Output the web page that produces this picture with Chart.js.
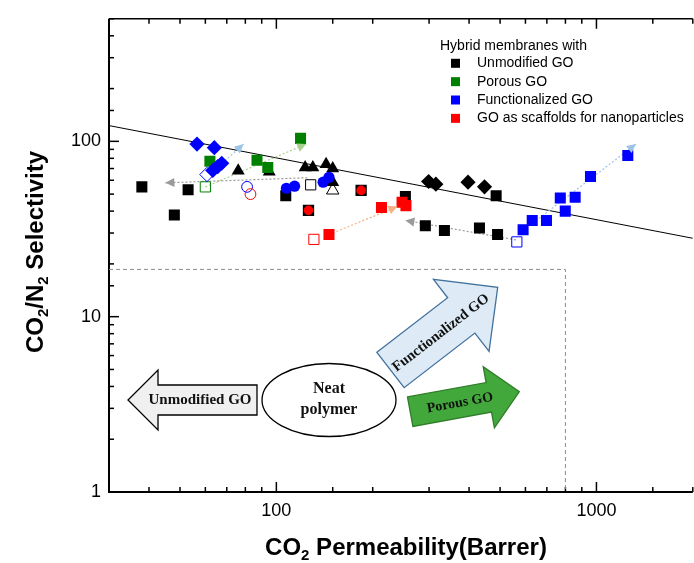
<!DOCTYPE html>
<html>
<head>
<meta charset="utf-8">
<title>CO2/N2 selectivity vs permeability</title>
<script src="https://cdn.jsdelivr.net/npm/chart.js@4.4.0/dist/chart.umd.min.js"></script>
<style>
  html, body { margin: 0; padding: 0; background: #fff; overflow: hidden; }
  #wrap { position: relative; width: 701px; height: 563px; }
</style>
</head>
<body>
<div id="wrap"><canvas id="chart"></canvas></div>
<script>
// axes
const xRange = [30, 2000]
const yRange = [1, 500]
const xTickLabels = [100, 1000]
const yTickLabels = [1, 10, 100]

// legend
const groupNames = ['Unmodified GO', 'Porous GO', 'Functionalized GO', 'GO as scaffolds for nanoparticles']
const groupColors = ['#000000', '#008000', '#0000ff', '#ff0000']

// Unmodified GO
const unmodSquareX = [38, 48, 53, 107, 253, 292, 335, 431, 491, 486]
const unmodSquareY = [55, 38, 53, 49, 48.5, 33, 31, 32, 29.4, 49]
const unmodOpenSquareX = [128]
const unmodOpenSquareY = [56.5]
const unmodTriangleX = [76, 95, 123, 130, 143, 150, 150]
const unmodTriangleY = [68, 67, 71, 71, 74, 70, 58.5]
const unmodOpenTriangleX = [150]
const unmodOpenTriangleY = [52.5]
const unmodDiamondX = [299, 315, 397, 447]
const unmodDiamondY = [59, 57, 58.5, 55]

// Porous GO
const porousSquareX = [62, 87, 94, 119]
const porousSquareY = [77, 78, 71, 104]
const porousOpenSquareX = [60]
const porousOpenSquareY = [55]

// Functionalized GO
const funcDiamondX = [56.5, 64, 63.3, 65.6, 67.5]
const funcDiamondY = [96.5, 92, 68.2, 71.8, 75]
const funcOpenDiamondX = [60.7]
const funcOpenDiamondY = [64.7]
const funcCircleX = [107.5, 114, 140, 146]
const funcCircleY = [54, 55.5, 58.5, 62.4]
const funcOpenCircleX = [81]
const funcOpenCircleY = [55]
const funcSquareX = [590, 630, 698, 771, 799, 858, 958, 1253]
const funcSquareY = [31.3, 35.4, 35.4, 47.5, 40, 48, 63, 83]
const funcOpenSquareX = [564]
const funcOpenSquareY = [26.7]

// GO as scaffolds for nanoparticles
const scaffSquareX = [146, 213, 247, 254]
const scaffSquareY = [29.4, 42, 45, 43]
const scaffOpenSquareX = [131]
const scaffOpenSquareY = [27.6]
const scaffCircleX = [126, 184]
const scaffCircleY = [40.4, 52.5]
const scaffOpenCircleX = [83]
const scaffOpenCircleY = [50]

// upper bound and neat polymer region
const boundX = [30, 2000]
const boundY = [123, 28]
const regionX = [30, 800, 800]
const regionY = [18.6, 18.6, 1]

// dotted trend arrows (from -> to)
const trendFromX = [125, 560, 62, 590, 60, 146]
const trendFromY = [62, 27.4, 65, 31, 55, 29.4]
const trendToX = [45, 253, 79, 1329, 124, 239]
const trendToY = [58, 35.4, 96.5, 96.5, 96.5, 42.5]
const trendColors = ['#9a9a9a', '#9a9a9a', '#9dc3e6', '#9dc3e6', '#a9d18e', '#f4b183']

const sans = "Arial, 'Liberation Sans', sans-serif"
const serif = "'Times New Roman', 'Liberation Serif', serif"

function pts(xs, ys) {
    return xs.map((x, i) => ({ x: x, y: ys[i] }))
}

function markers(xs, ys, shape, color, r, open, order) {
    return {
        type: 'scatter',
        data: pts(xs, ys),
        pointStyle: shape,
        pointRadius: r,
        pointHoverRadius: r,
        pointBackgroundColor: open ? 'rgba(0,0,0,0)' : color,
        pointBorderColor: color,
        pointBorderWidth: open ? 1 : 0,
        order: order
    }
}

function segment(xs, ys, color, width, dash, order, arrow) {
    return {
        type: 'line',
        data: pts(xs, ys),
        showLine: true,
        borderColor: color,
        borderWidth: width,
        borderDash: dash,
        pointRadius: 0,
        fill: false,
        tension: 0,
        order: order,
        arrow: arrow
    }
}

function isDecade(v) {
    const l = Math.log10(v)
    return Math.abs(l - Math.round(l)) < 1e-9
}

function hasLabel(list, v) {
    return list.some(l => Math.abs(l - v) < l * 1e-6)
}

const datasets = [
    segment(regionX, regionY, '#8c8c8c', 1, [4, 3], 20, false),
    segment(boundX, boundY, '#000000', 1, [], 19, false)
]
trendFromX.forEach((x, i) => {
    datasets.push(segment([x, trendToX[i]], [trendFromY[i], trendToY[i]], trendColors[i], 1.2, [2, 2], 15, true))
})
datasets.push(
    markers(unmodSquareX, unmodSquareY, 'rect', '#000', 7.8, false, 10),
    markers(unmodOpenSquareX, unmodOpenSquareY, 'rect', '#000', 7.2, true, 9),
    markers(unmodTriangleX, unmodTriangleY, 'triangle', '#000', 7.5, false, 10),
    markers(unmodOpenTriangleX, unmodOpenTriangleY, 'triangle', '#000', 7.2, true, 9),
    markers(unmodDiamondX, unmodDiamondY, 'rectRot', '#000', 7.6, false, 10),
    markers(porousSquareX, porousSquareY, 'rect', '#008000', 7.8, false, 8),
    markers(porousOpenSquareX, porousOpenSquareY, 'rect', '#008000', 7.2, true, 8),
    markers(funcDiamondX, funcDiamondY, 'rectRot', '#0000ff', 7.6, false, 6),
    markers(funcOpenDiamondX, funcOpenDiamondY, 'rectRot', '#0000ff', 7.2, true, 7),
    markers(funcCircleX, funcCircleY, 'circle', '#0000ff', 5.6, false, 6),
    markers(funcOpenCircleX, funcOpenCircleY, 'circle', '#0000ff', 5.4, true, 6),
    markers(funcSquareX, funcSquareY, 'rect', '#0000ff', 7.8, false, 6),
    markers(funcOpenSquareX, funcOpenSquareY, 'rect', '#0000ff', 7.2, true, 6),
    markers(scaffCircleX, scaffCircleY, 'rect', '#000', 8, false, 5),
    markers(scaffCircleX, scaffCircleY, 'circle', '#ff0000', 4.8, false, 4),
    markers(scaffSquareX, scaffSquareY, 'rect', '#ff0000', 7.8, false, 4),
    markers(scaffOpenSquareX, scaffOpenSquareY, 'rect', '#ff0000', 7.2, true, 4),
    markers(scaffOpenCircleX, scaffOpenCircleY, 'circle', '#ff0000', 5.4, true, 4)
)

// inward ticks, frame
const axisFrame = {
    id: 'axisFrame',
    beforeDatasetsDraw(chart) {
        const { ctx, chartArea: a, scales: { x, y } } = chart
        ctx.save()
        ctx.strokeStyle = '#000'
        ctx.lineWidth = 2
        ctx.beginPath()
        ctx.moveTo(a.left, a.top)
        ctx.lineTo(a.left, a.bottom)
        ctx.lineTo(a.right, a.bottom)
        ctx.stroke()
        ctx.lineWidth = 1.5
        ctx.beginPath()
        ctx.moveTo(a.left, a.top)
        ctx.lineTo(a.right, a.top)
        ctx.stroke()
        x.ticks.forEach(t => {
            const px = x.getPixelForValue(t.value)
            const len = isDecade(t.value) ? 10 : 5
            ctx.beginPath()
            ctx.moveTo(px, a.bottom)
            ctx.lineTo(px, a.bottom - len)
            ctx.moveTo(px, a.top)
            ctx.lineTo(px, a.top + len)
            ctx.stroke()
        })
        y.ticks.forEach(t => {
            const py = y.getPixelForValue(t.value)
            const len = isDecade(t.value) ? 10 : 5
            ctx.beginPath()
            ctx.moveTo(a.left, py)
            ctx.lineTo(a.left + len, py)
            ctx.stroke()
        })
        ctx.restore()
    }
}

// arrow heads on the dotted trend lines
const arrowHeads = {
    id: 'arrowHeads',
    afterDatasetsDraw(chart) {
        const ctx = chart.ctx
        chart.data.datasets.forEach((ds, i) => {
            if (!ds.arrow) return
            const p = chart.getDatasetMeta(i).data
            const a = p[0], b = p[1]
            const ang = Math.atan2(b.y - a.y, b.x - a.x)
            ctx.save()
            ctx.fillStyle = ds.borderColor
            ctx.translate(b.x, b.y)
            ctx.rotate(ang)
            ctx.beginPath()
            ctx.moveTo(0, 0)
            ctx.lineTo(-9, -4.5)
            ctx.lineTo(-9, 4.5)
            ctx.closePath()
            ctx.fill()
            ctx.restore()
        })
    }
}

function blockArrow(ctx, x0, y0, x1, y1, shaftW, headW, headL, fill, stroke) {
    const len = Math.hypot(x1 - x0, y1 - y0)
    ctx.save()
    ctx.translate(x0, y0)
    ctx.rotate(Math.atan2(y1 - y0, x1 - x0))
    ctx.beginPath()
    ctx.moveTo(0, -shaftW / 2)
    ctx.lineTo(len - headL, -shaftW / 2)
    ctx.lineTo(len - headL, -headW / 2)
    ctx.lineTo(len, 0)
    ctx.lineTo(len - headL, headW / 2)
    ctx.lineTo(len - headL, shaftW / 2)
    ctx.lineTo(0, shaftW / 2)
    ctx.closePath()
    ctx.fillStyle = fill
    ctx.fill()
    ctx.lineWidth = 1.3
    ctx.strokeStyle = stroke
    ctx.stroke()
    ctx.restore()
}

function rotText(ctx, text, x, y, ang, font) {
    ctx.save()
    ctx.translate(x, y)
    ctx.rotate(ang)
    ctx.font = font
    ctx.fillStyle = '#111'
    ctx.textAlign = 'center'
    ctx.textBaseline = 'middle'
    ctx.fillText(text, 0, 0)
    ctx.restore()
}

// schematic in the lower part
const schematic = {
    id: 'schematic',
    afterDatasetsDraw(chart) {
        const ctx = chart.ctx
        blockArrow(ctx, 257, 400, 128, 400, 30, 60, 30, '#f0f0f0', '#000')
        rotText(ctx, 'Unmodified GO', 200, 400, 0, 'bold 15px ' + serif)

        ctx.save()
        ctx.beginPath()
        ctx.ellipse(329, 400, 67, 36.5, 0, 0, Math.PI * 2)
        ctx.fillStyle = '#fff'
        ctx.fill()
        ctx.lineWidth = 1.3
        ctx.strokeStyle = '#000'
        ctx.stroke()
        ctx.restore()
        rotText(ctx, 'Neat', 329, 389, 0, 'bold 16px ' + serif)
        rotText(ctx, 'polymer', 329, 410, 0, 'bold 16px ' + serif)

        const fa = Math.atan2(287.3 - 370, 497.7 - 390.5)
        blockArrow(ctx, 390.5, 370, 497.7, 287.3, 44.6, 91, 46, '#deebf7', '#41719c')
        rotText(ctx, 'Functionalized GO', 441, 333, fa, 'bold 14.5px ' + serif)

        const pa = Math.atan2(391.7 - 411.7, 519.3 - 410.2)
        blockArrow(ctx, 410.2, 411.7, 519.3, 391.7, 30, 62, 31, '#43a83b', '#2f7d2a')
        rotText(ctx, 'Porous GO', 460, 403, pa, 'bold 14px ' + serif)
    }
}

// legend box
const groupLegend = {
    id: 'groupLegend',
    afterDraw(chart) {
        const ctx = chart.ctx
        ctx.save()
        ctx.font = '14px ' + sans
        ctx.fillStyle = '#000'
        ctx.textBaseline = 'middle'
        ctx.fillText('Hybrid membranes with', 440, 46)
        groupNames.forEach((name, i) => {
            const cy = 63.3 + i * 18.35
            ctx.fillStyle = groupColors[i]
            ctx.fillRect(451, cy - 4.5, 9, 9)
            ctx.fillStyle = '#000'
            ctx.fillText(name, 477, cy)
        })
        ctx.restore()
    }
}

function richText(ctx, parts, cx, cy, ang) {
    const big = 'bold 24px ' + sans
    const small = 'bold 15px ' + sans
    ctx.save()
    ctx.translate(cx, cy)
    ctx.rotate(ang)
    let total = 0
    parts.forEach(p => {
        ctx.font = p.sub ? small : big
        p.w = ctx.measureText(p.t).width
        total += p.w
    })
    let x = -total / 2
    ctx.fillStyle = '#000'
    ctx.textBaseline = 'alphabetic'
    parts.forEach(p => {
        ctx.font = p.sub ? small : big
        ctx.fillText(p.t, x, p.sub ? 13 : 8)
        x += p.w
    })
    ctx.restore()
}

const axisTitles = {
    id: 'axisTitles',
    afterDraw(chart) {
        const ctx = chart.ctx
        richText(ctx, [{ t: 'CO' }, { t: '2', sub: true }, { t: ' Permeability(Barrer)' }], 406, 547, 0)
        richText(ctx, [{ t: 'CO' }, { t: '2', sub: true }, { t: '/N' }, { t: '2', sub: true }, { t: ' Selectivity' }], 35, 252, -Math.PI / 2)
    }
}

new Chart(document.getElementById('chart'), {
    type: 'scatter',
    data: { datasets: datasets },
    options: {
        responsive: true,
        maintainAspectRatio: false,
        animation: false,
        layout: { padding: { top: 15, left: 0, right: 0, bottom: 0 } },
        plugins: {
            legend: { display: false },
            tooltip: { enabled: false },
            title: { display: false }
        },
        scales: {
            x: {
                type: 'logarithmic',
                min: xRange[0],
                max: xRange[1],
                grid: { display: false, drawTicks: false },
                border: { display: false },
                ticks: {
                    autoSkip: false,
                    maxRotation: 0,
                    padding: 8,
                    color: '#000',
                    font: { family: sans, size: 18 },
                    callback: v => hasLabel(xTickLabels, v) ? String(v) : ''
                },
                afterFit: s => { s.height = 71 }
            },
            y: {
                type: 'logarithmic',
                min: yRange[0],
                max: yRange[1],
                grid: { display: false, drawTicks: false },
                border: { display: false },
                ticks: {
                    autoSkip: false,
                    padding: 8,
                    color: '#000',
                    font: { family: sans, size: 18 },
                    callback: v => hasLabel(yTickLabels, v) ? String(v) : ''
                },
                afterFit: s => { s.width = 109 }
            }
        }
    },
    plugins: [axisFrame, arrowHeads, schematic, groupLegend, axisTitles]
})
</script>
</body>
</html>
